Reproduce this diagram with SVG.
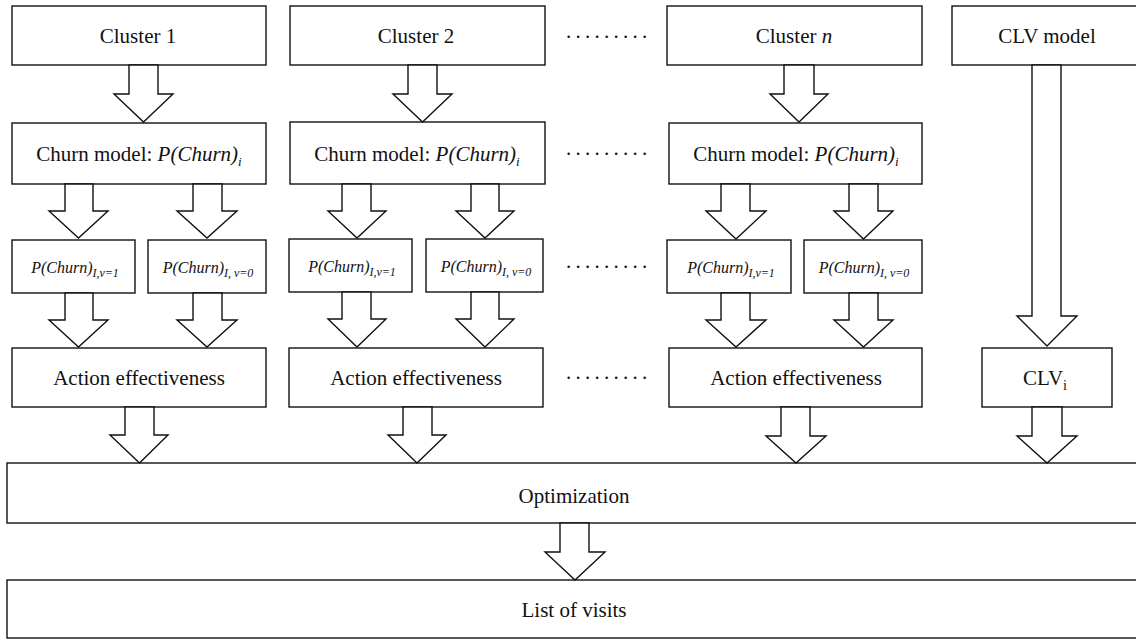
<svg xmlns="http://www.w3.org/2000/svg" width="1136" height="639" viewBox="0 0 1136 639">
<style>
.box{fill:#fff;stroke:#111;stroke-width:1.4}
.arr{fill:#fff;stroke:#111;stroke-width:1.4;stroke-linejoin:miter}
.t{font-family:"Liberation Serif","Times New Roman",serif;font-size:21px;fill:#111;text-anchor:middle}
.s{font-family:"Liberation Serif","Times New Roman",serif;font-size:16px;font-style:italic;fill:#111;text-anchor:middle}
.dots{font-family:"Liberation Serif","Times New Roman",serif;font-size:21px;fill:#111;letter-spacing:4.25px}
</style>
<rect width="1136" height="639" fill="#fff"/>

<!-- Column 1 -->
<g id="cluster1"><rect class="box" x="12" y="6" width="254" height="59"/><text class="t" x="138" y="43">Cluster 1</text></g>
<g id="churn1"><rect class="box" x="12" y="123" width="254" height="61"/><text class="t" x="139" y="161">Churn model: <tspan font-style="italic">P(Churn)</tspan><tspan font-style="italic" font-size="13" dy="5">i</tspan></text></g>
<g id="p1a"><rect class="box" x="12" y="240" width="123" height="53"/><text class="s" x="75" y="273">P(Churn)<tspan font-size="12" dy="4">I,v=1</tspan></text></g>
<g id="p1b"><rect class="box" x="148" y="240" width="118" height="53"/><text class="s" x="208" y="273">P(Churn)<tspan font-size="12" dy="4">I, v=0</tspan></text></g>
<g id="action1"><rect class="box" x="12" y="348" width="254" height="59"/><text class="t" x="139" y="385">Action effectiveness</text></g>

<!-- Column 2 -->
<g id="cluster2"><rect class="box" x="290" y="6" width="255" height="59"/><text class="t" x="416" y="43">Cluster 2</text></g>
<g id="churn2"><rect class="box" x="290" y="122" width="255" height="62"/><text class="t" x="417" y="161">Churn model: <tspan font-style="italic">P(Churn)</tspan><tspan font-style="italic" font-size="13" dy="5">i</tspan></text></g>
<g id="p2a"><rect class="box" x="289" y="239" width="123" height="53"/><text class="s" x="352" y="272">P(Churn)<tspan font-size="12" dy="4">I,v=1</tspan></text></g>
<g id="p2b"><rect class="box" x="426" y="239" width="117" height="53"/><text class="s" x="486" y="272">P(Churn)<tspan font-size="12" dy="4">I, v=0</tspan></text></g>
<g id="action2"><rect class="box" x="289" y="348" width="254" height="59"/><text class="t" x="416" y="385">Action effectiveness</text></g>

<!-- Column n -->
<g id="clustern"><rect class="box" x="667" y="6" width="255" height="59"/><text class="t" x="794" y="43">Cluster <tspan font-style="italic">n</tspan></text></g>
<g id="churnn"><rect class="box" x="669" y="123" width="253" height="61"/><text class="t" x="796" y="161">Churn model: <tspan font-style="italic">P(Churn)</tspan><tspan font-style="italic" font-size="13" dy="5">i</tspan></text></g>
<g id="pna"><rect class="box" x="667" y="240" width="124" height="53"/><text class="s" x="731" y="273">P(Churn)<tspan font-size="12" dy="4">I,v=1</tspan></text></g>
<g id="pnb"><rect class="box" x="804" y="240" width="118" height="53"/><text class="s" x="864" y="273">P(Churn)<tspan font-size="12" dy="4">I, v=0</tspan></text></g>
<g id="actionn"><rect class="box" x="669" y="348" width="253" height="59"/><text class="t" x="796" y="385">Action effectiveness</text></g>

<!-- CLV -->
<g id="clvmodel"><rect class="box" x="952" y="6" width="200" height="59"/><text class="t" x="1047" y="43">CLV model</text></g>
<g id="clvi"><rect class="box" x="982" y="348" width="130" height="59"/><text class="t" x="1045" y="385">CLV<tspan font-size="14" dy="5">i</tspan></text></g>

<!-- Bottom -->
<g id="optimization"><rect class="box" x="7" y="463" width="1140" height="60"/><text class="t" x="574" y="503">Optimization</text></g>
<g id="visits"><rect class="box" x="7" y="580" width="1140" height="58"/><text class="t" x="574" y="617">List of visits</text></g>

<!-- Ellipses -->
<g id="ellipses">
<text class="dots" x="566" y="38">.........</text>
<text class="dots" x="566" y="155">.........</text>
<text class="dots" x="566" y="268">.........</text>
<text class="dots" x="566" y="379">.........</text>
</g>

<!-- Connectors (block arrows) -->
<g id="connectors">
<polygon class="arr" points="129,65 158,65 158,94 173,94 143.5,122 114,94 129,94"/>
<polygon class="arr" points="65,184 93,184 93,211 108,211 78.5,238 49,211 65,211"/>
<polygon class="arr" points="193,184 222,184 222,211 237,211 207,238 177,211 193,211"/>
<polygon class="arr" points="65,293 93,293 93,320 108,320 78.5,347 49,320 65,320"/>
<polygon class="arr" points="193,293 222,293 222,320 237,320 207,347 177,320 193,320"/>
<polygon class="arr" points="125,407 154,407 154,435 168,435 139.5,463 110,435 125,435"/>

<polygon class="arr" points="408,65 437,65 437,94 452,94 422.5,122 393,94 408,94"/>
<polygon class="arr" points="342,184 371,184 371,211 386,211 357,238 328,211 342,211"/>
<polygon class="arr" points="471,184 499,184 499,211 514,211 485,238 456,211 471,211"/>
<polygon class="arr" points="342,292 371,292 371,319 386,319 357,347 328,319 342,319"/>
<polygon class="arr" points="471,292 499,292 499,319 514,319 485,347 456,319 471,319"/>
<polygon class="arr" points="403,407 432,407 432,435 446,435 417,463 388,435 403,435"/>

<polygon class="arr" points="784,65 814,65 814,94 828,94 799,122 770,94 784,94"/>
<polygon class="arr" points="721,184 750,184 750,211 766,211 736,239 706,211 721,211"/>
<polygon class="arr" points="849,184 878,184 878,211 893,211 863.5,239 834,211 849,211"/>
<polygon class="arr" points="721,293 750,293 750,320 766,320 736,347 706,320 721,320"/>
<polygon class="arr" points="849,293 878,293 878,320 893,320 863.5,347 834,320 849,320"/>
<polygon class="arr" points="781,407 810,407 810,436 826,436 796,463 766,436 781,436"/>

<polygon class="arr" points="1032,65 1061,65 1061,316 1077,316 1047,346 1017,316 1032,316"/>
<polygon class="arr" points="1032,407 1062,407 1062,436 1077,436 1047,463 1017,436 1032,436"/>

<polygon class="arr" points="560,523 589,523 589,552 605,552 575,580 545,552 560,552"/>
</g>
</svg>
